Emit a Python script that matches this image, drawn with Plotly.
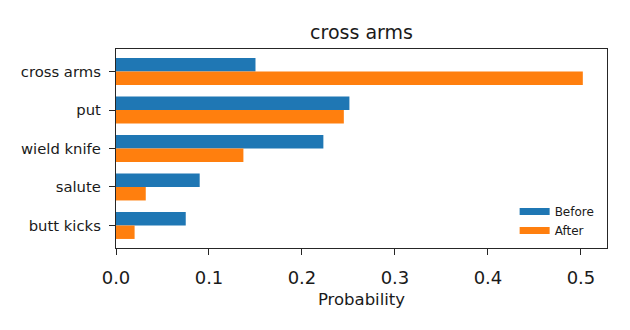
import plotly.graph_objects as go

# values
actions = ["cross arms", "put", "wield knife", "salute", "butt kicks"]
before = [0.150, 0.251, 0.223, 0.090, 0.075]
after = [0.502, 0.245, 0.137, 0.032, 0.020]
x_ticks = [0.0, 0.1, 0.2, 0.3, 0.4, 0.5]

blue = "#1f77b4"
orange = "#ff7f0e"
font = "DejaVu Sans"
bar_h = 0.35

# top category at the top of the axis
pos = list(range(len(actions) - 1, -1, -1))

fig = go.Figure()
fig.add_trace(go.Bar(y=pos, x=before, orientation="h", width=bar_h, offset=0,
                     marker=dict(color=blue, line=dict(width=0)), showlegend=False))
fig.add_trace(go.Bar(y=pos, x=after, orientation="h", width=bar_h, offset=-bar_h,
                     marker=dict(color=orange, line=dict(width=0)), showlegend=False))

# legend entries drawn as thick lines to get matplotlib-like patches
fig.add_trace(go.Scatter(x=[None], y=[None], mode="lines", name="Before",
                         line=dict(color=blue, width=7)))
fig.add_trace(go.Scatter(x=[None], y=[None], mode="lines", name="After",
                         line=dict(color=orange, width=7)))

axis_common = dict(showline=True, linecolor="#262626", linewidth=1.3, mirror=True,
                   ticks="outside", ticklen=6, tickwidth=1.2, tickcolor="#262626",
                   showgrid=False, zeroline=False, automargin=False)

# page body has an 8px margin, so the figure is a bit smaller than the window
fig.update_layout(
    width=622, height=322,
    margin=dict(l=108, r=23, t=41, b=82, autoexpand=False),
    paper_bgcolor="white", plot_bgcolor="white",
    barmode="overlay",
    font=dict(family=font, color="#262626"),
    title=dict(text="cross arms", xref="paper", x=0.5, xanchor="center",
               y=0.925, yanchor="middle",
               font=dict(size=19, color="#1a1a1a")),
    xaxis=dict(range=[0, 0.528], tickvals=x_ticks, tickformat=".1f",
               tickfont=dict(size=18, color="#1a1a1a"), ticklabelstandoff=7,
               title=dict(text="Probability", font=dict(size=16.5, color="#1a1a1a"), standoff=6),
               **axis_common),
    yaxis=dict(range=[-0.585, len(actions) - 1 + 0.585], tickvals=pos, ticktext=actions,
               tickfont=dict(size=14.8, color="#1a1a1a"), ticklabelstandoff=5,
               **axis_common),
    legend=dict(x=0.985, y=0.015, xanchor="right", yanchor="bottom",
                bgcolor="rgba(0,0,0,0)", font=dict(size=12, color="#1a1a1a"),
                tracegroupgap=0, itemwidth=30),
)

fig.write_html("out.html")
